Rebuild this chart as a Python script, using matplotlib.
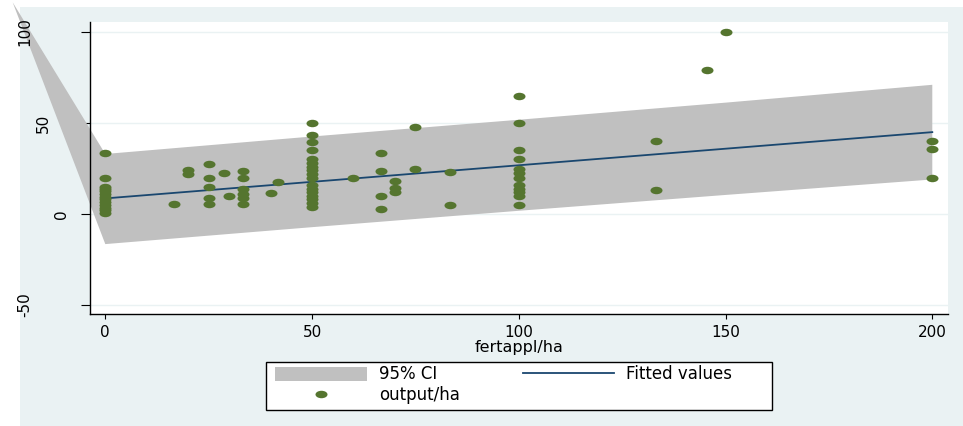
import matplotlib
matplotlib.use("Agg")
import matplotlib.pyplot as plt
from matplotlib.path import Path
from matplotlib.patches import Patch, Rectangle, Polygon
from matplotlib.lines import Line2D
from matplotlib.transforms import Affine2D

# Points, grouped by fertiliser level
fert_x = ([0] * 13
          + [16.7, 20, 20]
          + [25] * 5
          + [28.6, 30]
          + [33.3] * 6
          + [40, 41.7]
          + [50] * 17
          + [60]
          + [66.7] * 4
          + [70] * 3
          + [75, 75, 83.3, 83.3]
          + [100] * 12
          + [133.3, 133.3, 145.5, 150]
          + [200] * 3)
output_y = ([0.5, 2, 3.5, 5, 6.5, 8, 9.5, 11, 12.5, 14, 15, 20, 33.3]
            + [5.3, 24.2, 22]
            + [27.5, 20, 15, 8.6, 5.3]
            + [22.7, 9.9]
            + [23.4, 20, 13.5, 11.2, 8.6, 5.3]
            + [11.8, 17.4]
            + [50, 43.5, 39.8, 35.2, 30, 28, 26, 24, 22, 20, 16, 14, 12, 10, 8, 6, 4]
            + [20]
            + [33.3, 23.4, 9.7, 2.9]
            + [18, 14.1, 11.9]
            + [48, 24.9, 23.3, 5]
            + [65, 50, 35, 30, 25, 22.5, 20, 16, 14, 12, 10, 5]
            + [40, 13.4, 79, 100]
            + [40, 36, 20])

# fitted line and 95% CI band
fit_x = [0, 200]
fit_y = [8.6, 45]
ci_x = [0, 50, 100, 150, 200]
ci_upper = [33, 42.6, 51.8, 61.2, 71]
ci_lower = [-16.5, -7.2, 1.8, 10.5, 19]
# the band in the reference has one stray vertex far up-left, outside the plot
ci_stray_x = -22.4
ci_stray_y = 116.3

x_ticks = [0, 50, 100, 150, 200]
y_ticks = [-50, 0, 50, 100]

navy = "#1a476f"
green = "#55752f"
band_gray = "#c0c0c0"
bg = "#eaf2f3"

W, H = 963, 426
fig = plt.figure(figsize=(W / 100, H / 100), dpi=100)
fig.patch.set_facecolor("white")
fig.add_artist(Rectangle((20 / W, 0), (W - 20) / W, (H - 7) / H,
                         transform=fig.transFigure, facecolor=bg,
                         edgecolor="none", zorder=-1))

ax_l, ax_r, ax_t, ax_b = 90, 948, 22, 314
ax = fig.add_axes([ax_l / W, (H - ax_b) / H, (ax_r - ax_l) / W, (ax_b - ax_t) / H])
ax.set_facecolor("white")

ell = Affine2D().scale(1, 0.62).transform_path(Path.unit_circle())

verts = (list(zip(ci_x, ci_upper)) + list(zip(ci_x[::-1], ci_lower[::-1]))
         + [(ci_stray_x, ci_stray_y)])
ax.add_patch(Polygon(verts, closed=True, facecolor=band_gray, edgecolor="none",
                     clip_on=False, zorder=1))
ax.plot(fit_x, fit_y, color=navy, lw=1.3, zorder=2)
pts = ax.scatter(fert_x, output_y, s=75, marker=ell, color=green,
                 linewidths=0, zorder=3)

ax.set_xlim(-3.7, 203.8)
ax.set_ylim(-54.9, 105.5)

for s in ["top", "right"]:
    ax.spines[s].set_visible(False)
for s in ["left", "bottom"]:
    ax.spines[s].set_linewidth(1.0)
    ax.spines[s].set_color("black")

ax.set_axisbelow(True)
ax.yaxis.grid(True, color=bg, lw=1.0)

ax.set_xticks(x_ticks)
ax.tick_params(axis="x", length=3.6, width=0.8, pad=4, labelsize=11)
ax.set_yticks(y_ticks)
ax.tick_params(axis="y", length=6.5, width=0.8, labelleft=False)
for v in y_ticks:
    lab = str(v)
    cx = 80 - 18.5 * len(lab)
    ax.text((cx - ax_l) / (ax_r - ax_l), v, lab, transform=ax.get_yaxis_transform(),
            rotation=90, ha="center", va="center", fontsize=11)

ax.set_xlabel("fertappl/ha", fontsize=11.5)
ax.xaxis.set_label_coords(0.5, (ax_b - 347.5) / (ax_b - ax_t))
ax.xaxis.label.set_va("center")

# legend box drawn separately so it spans the same width as the reference
fig.add_artist(Rectangle((266 / W, (H - 410) / H), 506 / W, 48 / H,
                         transform=fig.transFigure, facecolor="white",
                         edgecolor="black", lw=1.0, zorder=4))
band_h = Patch(facecolor=band_gray, edgecolor="none")
line_h = Line2D([], [], color=navy, lw=1.3)
fs = 12
leg = fig.legend([band_h, pts, line_h], ["95% CI", "output/ha", "Fitted values"],
                 ncol=2, loc="upper left", bbox_to_anchor=(271.7 / W, (H - 362) / H),
                 borderaxespad=0, frameon=False, fontsize=fs,
                 handlelength=92 / 16.7, handleheight=0.9, handletextpad=0.72,
                 columnspacing=3.77, borderpad=0.2, labelspacing=0.14,
                 scatterpoints=1)
leg.set_zorder(5)

fig.savefig("out.png", dpi=100)
